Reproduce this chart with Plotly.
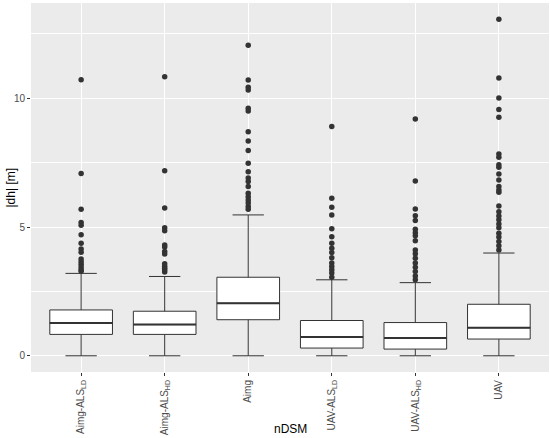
import plotly.graph_objects as go

# ggplot-style boxplot of |dh| per nDSM source
CATEGORIES = ["Aimg-ALS<sub>LD</sub>", "Aimg-ALS<sub>HD</sub>", "Aimg",
              "UAV-ALS<sub>LD</sub>", "UAV-ALS<sub>HD</sub>", "UAV"]

Q1 = [0.83, 0.83, 1.40, 0.30, 0.26, 0.65]
MEDIAN = [1.27, 1.21, 2.04, 0.73, 0.69, 1.09]
Q3 = [1.78, 1.73, 3.05, 1.37, 1.29, 2.00]
LOWER = [0.0, 0.0, 0.0, 0.0, 0.0, 0.0]
UPPER = [3.20, 3.08, 5.47, 2.95, 2.84, 3.99]

OUTLIERS = [
    [10.72, 7.08, 5.69, 5.18, 5.07, 4.70, 4.37, 4.15, 4.02, 3.76, 3.65,
     3.55, 3.45, 3.35, 3.28],
    [10.84, 7.19, 5.74, 4.97, 4.86, 4.30, 4.22, 4.05, 3.95, 3.57, 3.48,
     3.40, 3.33, 3.25],
    [12.06, 10.71, 10.43, 10.32, 9.61, 9.51, 8.70, 8.34, 7.97, 7.48, 7.15,
     6.90, 6.77, 6.57, 6.31, 6.18, 6.05, 5.93, 5.80, 5.69],
    [8.90, 6.12, 5.77, 5.47, 4.93, 4.62, 4.37, 4.18, 4.01, 3.81, 3.60,
     3.47, 3.34, 3.21, 3.05],
    [9.20, 6.79, 5.70, 5.44, 5.25, 4.91, 4.78, 4.66, 4.47, 4.11, 3.96,
     3.79, 3.60, 3.44, 3.27, 3.10, 2.95],
    [13.07, 10.79, 10.01, 9.56, 9.26, 7.84, 7.71, 7.42, 7.32, 7.06, 6.83,
     6.57, 6.44, 6.35, 5.82, 5.59, 5.43, 5.28, 5.12, 4.97, 4.76, 4.61,
     4.44, 4.27, 4.11],
]

BOX_W = 0.75
INK = "#333333"

fig = go.Figure()
for i in range(len(CATEGORIES)):
    fig.add_trace(go.Box(
        x=[i], q1=[Q1[i]], median=[MEDIAN[i]], q3=[Q3[i]],
        lowerfence=[LOWER[i]], upperfence=[UPPER[i]],
        width=BOX_W, fillcolor="white", boxpoints=False,
        line=dict(color=INK, width=1), showlegend=False, hoverinfo="skip",
    ))
    # thicker median bar, as in ggplot
    fig.add_trace(go.Scatter(
        x=[i - BOX_W / 2, i + BOX_W / 2], y=[MEDIAN[i], MEDIAN[i]],
        mode="lines", line=dict(color=INK, width=2),
        showlegend=False, hoverinfo="skip",
    ))
    fig.add_trace(go.Scatter(
        x=[i] * len(OUTLIERS[i]), y=OUTLIERS[i], mode="markers",
        marker=dict(size=5.5, color=INK), showlegend=False,
    ))

fig.update_layout(
    width=550, height=438,
    paper_bgcolor="white", plot_bgcolor="#EBEBEB",
    margin=dict(l=31, r=1, t=3, b=66, autoexpand=False),
    font=dict(family="Liberation Sans, Arial, sans-serif", color="black"),
    annotations=[
        dict(text="nDSM", xref="paper", yref="paper", x=0.5, y=0,
             yshift=-57, showarrow=False, font=dict(size=12),
             xanchor="center", yanchor="middle"),
        dict(text="|dh| [m]", xref="paper", yref="paper", x=0, y=0.5,
             xshift=-21, showarrow=False, font=dict(size=12), textangle=-90,
             xanchor="center", yanchor="middle"),
    ],
)
fig.update_xaxes(
    range=[-0.6, 5.6], tickvals=list(range(len(CATEGORIES))),
    ticktext=CATEGORIES, tickangle=-90, zeroline=False, automargin=False,
    showgrid=True, gridcolor="white", gridwidth=1.1,
    ticks="outside", ticklen=3, tickcolor=INK,
    tickfont=dict(size=10, color="#4D4D4D"),
)
fig.update_yaxes(
    range=[-0.63, 13.70], tickvals=[0, 5, 10], zeroline=False,
    automargin=False,
    showgrid=True, gridcolor="white", gridwidth=1.1,
    minor=dict(tickvals=[2.5, 7.5, 12.5], showgrid=True,
               gridcolor="white", gridwidth=0.5),
    ticks="outside", ticklen=3, tickcolor=INK,
    tickfont=dict(size=10, color="#4D4D4D"),
)

# the page's default body margin would shift the figure by 8px
fig.write_html("out.html", config={"displayModeBar": False},
               post_script="document.body.style.margin='0';")
